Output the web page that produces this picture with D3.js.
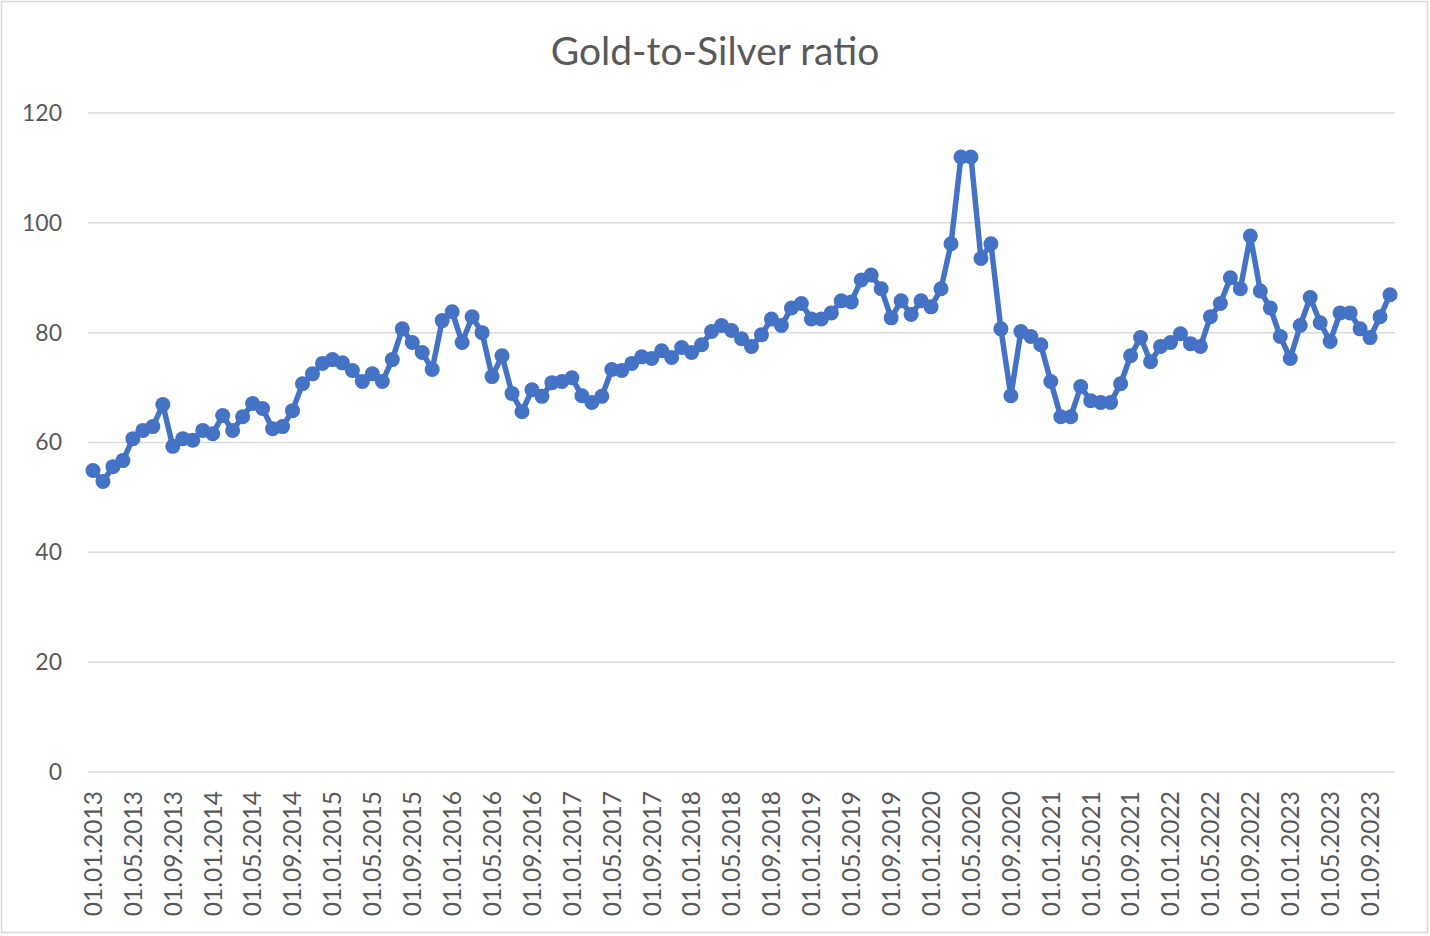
<!DOCTYPE html>
<html>
<head>
<meta charset="utf-8">
<script src="https://cdn.jsdelivr.net/npm/d3@7"></script>
<style>
  html, body { margin: 0; padding: 0; background: #fff; }
  svg { display: block; }
  text { font-family: "Lato", "Open Sans", "Liberation Sans", sans-serif; fill: #595959; }
</style>
</head>
<body>
<svg id="chart" width="1430" height="936"></svg>
<script>
// monthly dates, Jan 2013 .. Nov 2023
var dates = [
  "01.01.2013","01.02.2013","01.03.2013","01.04.2013","01.05.2013","01.06.2013","01.07.2013","01.08.2013","01.09.2013","01.10.2013","01.11.2013","01.12.2013",
  "01.01.2014","01.02.2014","01.03.2014","01.04.2014","01.05.2014","01.06.2014","01.07.2014","01.08.2014","01.09.2014","01.10.2014","01.11.2014","01.12.2014",
  "01.01.2015","01.02.2015","01.03.2015","01.04.2015","01.05.2015","01.06.2015","01.07.2015","01.08.2015","01.09.2015","01.10.2015","01.11.2015","01.12.2015",
  "01.01.2016","01.02.2016","01.03.2016","01.04.2016","01.05.2016","01.06.2016","01.07.2016","01.08.2016","01.09.2016","01.10.2016","01.11.2016","01.12.2016",
  "01.01.2017","01.02.2017","01.03.2017","01.04.2017","01.05.2017","01.06.2017","01.07.2017","01.08.2017","01.09.2017","01.10.2017","01.11.2017","01.12.2017",
  "01.01.2018","01.02.2018","01.03.2018","01.04.2018","01.05.2018","01.06.2018","01.07.2018","01.08.2018","01.09.2018","01.10.2018","01.11.2018","01.12.2018",
  "01.01.2019","01.02.2019","01.03.2019","01.04.2019","01.05.2019","01.06.2019","01.07.2019","01.08.2019","01.09.2019","01.10.2019","01.11.2019","01.12.2019",
  "01.01.2020","01.02.2020","01.03.2020","01.04.2020","01.05.2020","01.06.2020","01.07.2020","01.08.2020","01.09.2020","01.10.2020","01.11.2020","01.12.2020",
  "01.01.2021","01.02.2021","01.03.2021","01.04.2021","01.05.2021","01.06.2021","01.07.2021","01.08.2021","01.09.2021","01.10.2021","01.11.2021","01.12.2021",
  "01.01.2022","01.02.2022","01.03.2022","01.04.2022","01.05.2022","01.06.2022","01.07.2022","01.08.2022","01.09.2022","01.10.2022","01.11.2022","01.12.2022",
  "01.01.2023","01.02.2023","01.03.2023","01.04.2023","01.05.2023","01.06.2023","01.07.2023","01.08.2023","01.09.2023","01.10.2023","01.11.2023"
];

// gold / silver ratio
var ratio = [
  54.9, 52.9, 55.6, 56.7, 60.7, 62.2, 62.9, 66.9, 59.3, 60.7, 60.4, 62.2,
  61.6, 64.9, 62.2, 64.7, 67.1, 66.2, 62.5, 62.9, 65.8, 70.7, 72.5, 74.4,
  75.1, 74.5, 73.1, 71.1, 72.5, 71.1, 75.1, 80.7, 78.2, 76.4, 73.3, 82.2,
  83.8, 78.2, 82.9, 80.0, 72.0, 75.8, 68.9, 65.6, 69.6, 68.4, 70.9, 71.1,
  71.8, 68.5, 67.3, 68.4, 73.3, 73.1, 74.4, 75.6, 75.3, 76.7, 75.5, 77.3,
  76.4, 77.8, 80.2, 81.3, 80.4, 78.9, 77.5, 79.6, 82.5, 81.3, 84.5, 85.3,
  82.5, 82.5, 83.6, 85.8, 85.6, 89.6, 90.5, 88.0, 82.7, 85.8, 83.3, 85.8,
  84.7, 88.0, 96.2, 112.0, 112.0, 93.5, 96.2, 80.7, 68.5, 80.2, 79.3, 77.8,
  71.1, 64.7, 64.7, 70.2, 67.6, 67.3, 67.3, 70.7, 75.8, 79.1, 74.7, 77.5,
  78.2, 79.8, 78.0, 77.5, 82.9, 85.3, 90.0, 88.0, 97.6, 87.6, 84.5, 79.3,
  75.3, 81.3, 86.4, 81.8, 78.4, 83.6, 83.6, 80.7, 79.1, 82.9, 86.9
];

var yTicks = [0, 20, 40, 60, 80, 100, 120];
var title = "Gold-to-Silver ratio";

var svg = d3.select("#chart"),
    W = +svg.attr("width"),
    H = +svg.attr("height"),
    margin = {top: 113, right: 35, bottom: 164, left: 88},
    width = W - margin.left - margin.right,
    height = H - margin.top - margin.bottom;

// chart frame
svg.append("rect")
    .attr("x", 1.5).attr("y", 1.5)
    .attr("width", W - 4).attr("height", H - 5)
    .attr("fill", "#fff")
    .attr("stroke", "#d9d9d9")
    .attr("stroke-width", 1.5);

svg.append("text")
    .attr("x", W / 2)
    .attr("y", 65)
    .attr("text-anchor", "middle")
    .style("font-size", "39px")
    .text(title);

var g = svg.append("g").attr("transform", "translate(" + margin.left + "," + margin.top + ")");

var x = d3.scaleBand()
    .domain(dates)
    .range([0, width]);

var y = d3.scaleLinear()
    .domain([0, 120])
    .range([height, 0]);

// grid
g.append("g")
  .selectAll("line")
  .data(yTicks)
  .enter().append("line")
    .attr("x1", 0).attr("x2", width)
    .attr("y1", function(d) { return y(d); })
    .attr("y2", function(d) { return y(d); })
    .attr("stroke", "#d9d9d9")
    .attr("stroke-width", 1.5);

// y axis labels
var yAxis = d3.axisLeft(y).tickValues(yTicks).tickSize(0).tickPadding(26);
var ya = g.append("g").call(yAxis);
ya.select(".domain").remove();
ya.selectAll("text")
    .style("font-size", "23px")
    .attr("fill", "#595959");

// x axis labels, every 4th month
var xAxis = d3.axisBottom(x)
    .tickValues(dates.filter(function(d, i) { return i % 4 === 0; }))
    .tickSize(0);
var xa = g.append("g")
    .attr("transform", "translate(0," + height + ")")
    .call(xAxis);
xa.select(".domain").remove();
xa.selectAll("text")
    .style("font-size", "24.5px")
    .attr("fill", "#595959")
    .attr("text-anchor", "end")
    .attr("transform", "rotate(-90)")
    .attr("x", -19)
    .attr("y", 0)
    .attr("dy", "0.36em");

var line = d3.line()
    .x(function(d, i) { return x(dates[i]) + x.bandwidth() / 2; })
    .y(function(d) { return y(d); });

g.append("path")
    .datum(ratio)
    .attr("fill", "none")
    .attr("stroke", "#4472C4")
    .attr("stroke-width", 5.5)
    .attr("stroke-linejoin", "round")
    .attr("stroke-linecap", "round")
    .attr("d", line);

g.selectAll("circle")
    .data(ratio)
    .enter().append("circle")
    .attr("r", 7.5)
    .attr("fill", "#4472C4")
    .attr("cx", function(d, i) { return x(dates[i]) + x.bandwidth() / 2; })
    .attr("cy", function(d) { return y(d); });
</script>
</body>
</html>
